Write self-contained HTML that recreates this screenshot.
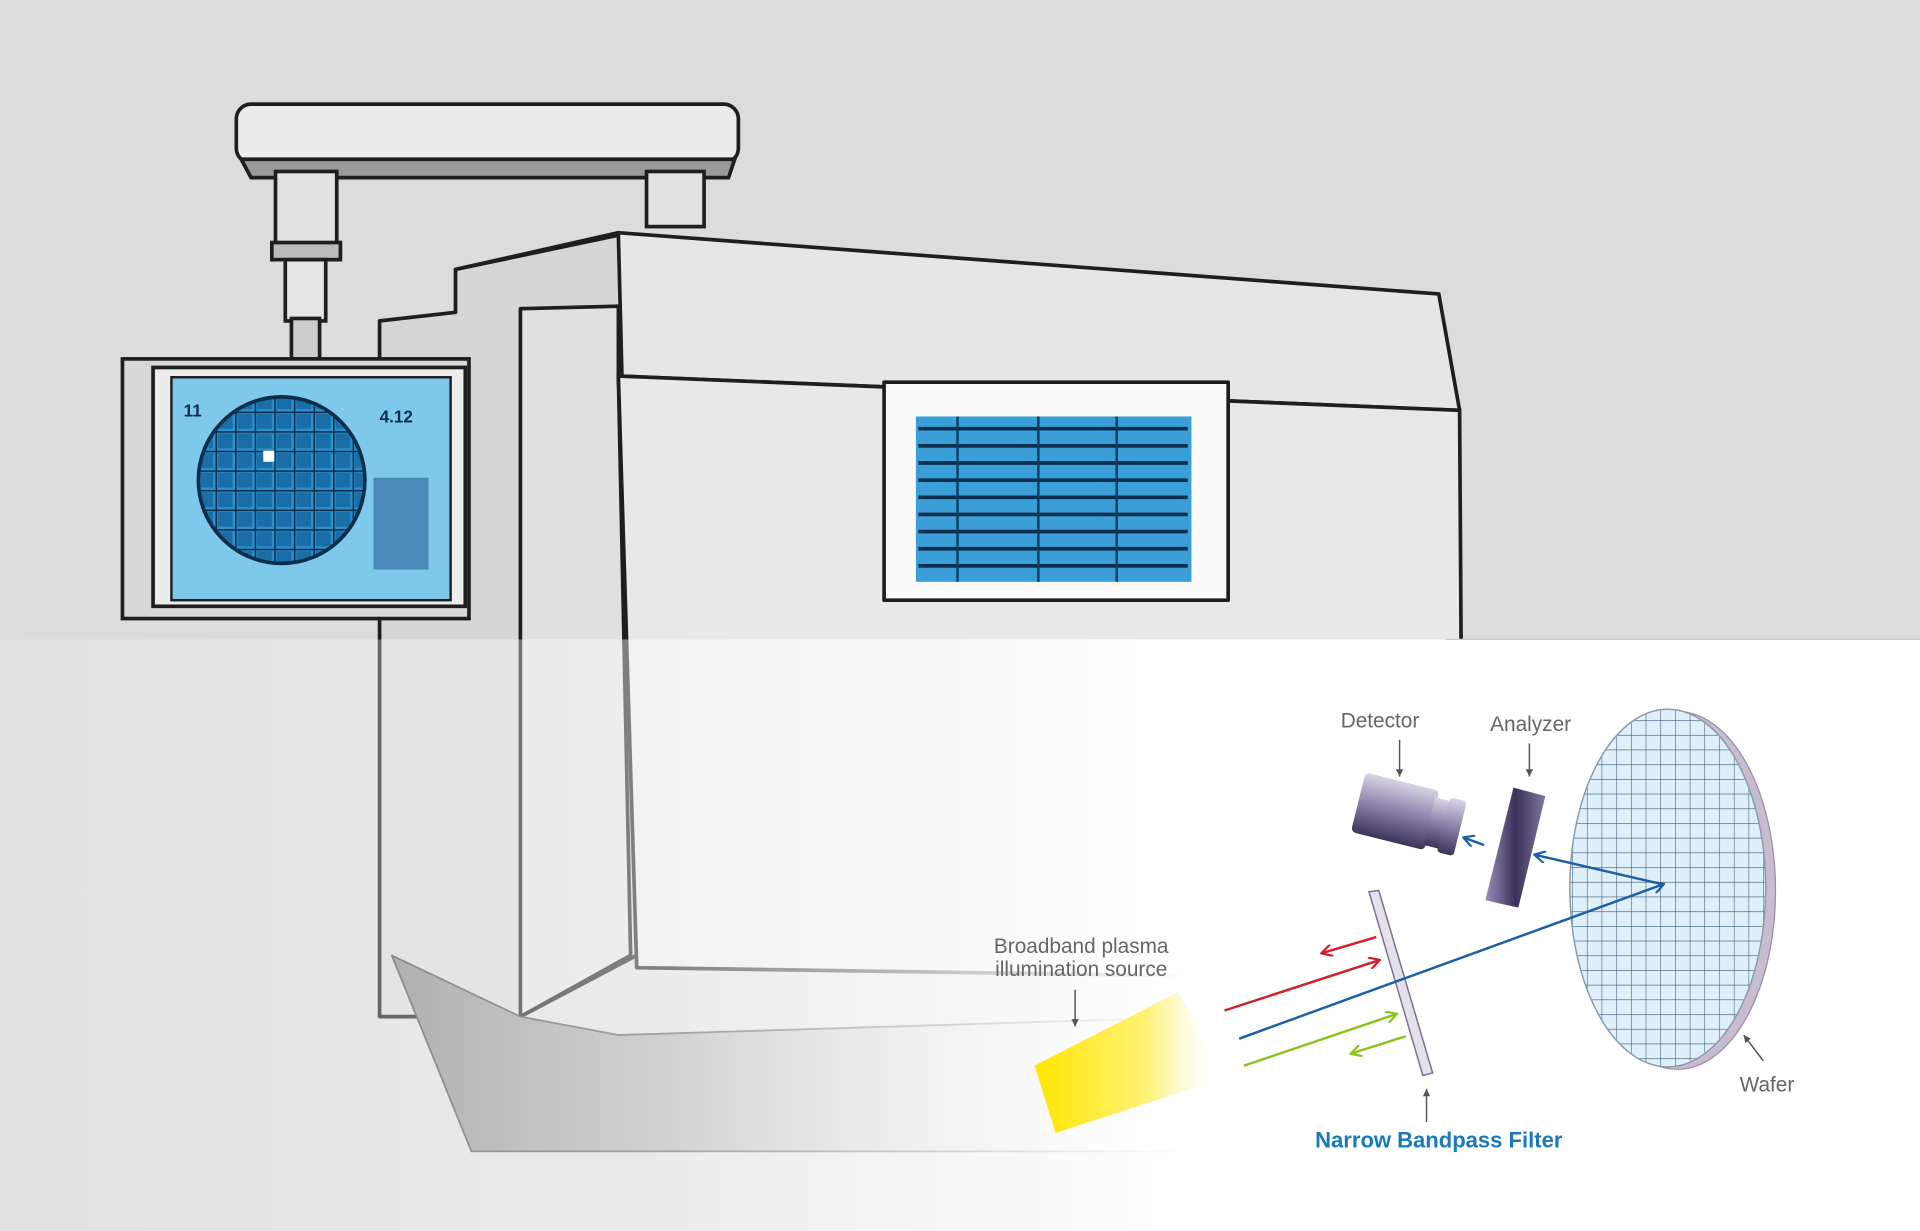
<!DOCTYPE html>
<html><head><meta charset="utf-8"><style>
html,body{margin:0;padding:0;background:#dcdcdc}
svg{display:block}
text{font-family:"Liberation Sans",sans-serif}
</style></head><body>
<svg width="1920" height="1231" viewBox="0 0 1568 1005" preserveAspectRatio="none" xmlns="http://www.w3.org/2000/svg">
<defs>
<linearGradient id="fade" x1="0" x2="1" y1="0" y2="0">
<stop offset="0" stop-color="#fff" stop-opacity="0.15"/>
<stop offset="0.35" stop-color="#fff" stop-opacity="0.45"/>
<stop offset="0.62" stop-color="#fff" stop-opacity="1"/>
<stop offset="1" stop-color="#fff" stop-opacity="1"/>
</linearGradient>
<linearGradient id="floor" x1="0" x2="1">
<stop offset="0" stop-color="#8a8a8a"/><stop offset="0.6" stop-color="#c8c8c8"/><stop offset="1" stop-color="#eee"/>
</linearGradient>
<linearGradient id="yel" x1="0" x2="1">
<stop offset="0" stop-color="#ffe600"/><stop offset="0.6" stop-color="#fff27a"/><stop offset="1" stop-color="#fff" stop-opacity="0"/>
</linearGradient>
<linearGradient id="det" x1="0" x2="0" y1="0" y2="1">
<stop offset="0" stop-color="#d8d4e6"/><stop offset="0.5" stop-color="#8a80a8"/><stop offset="1" stop-color="#3c3458"/>
</linearGradient>
<linearGradient id="ana" x1="0" x2="1">
<stop offset="0" stop-color="#9a90b8"/><stop offset="0.5" stop-color="#3a3058"/><stop offset="1" stop-color="#8078a0"/>
</linearGradient>
<pattern id="grid" width="12" height="12" patternUnits="userSpaceOnUse">
<rect width="12" height="12" fill="#e0f0fa"/><path d="M0 0H12M0 0V12" stroke="#3a5a74" stroke-width="0.9"/>
</pattern>
<pattern id="wgrid" width="16" height="16" patternUnits="userSpaceOnUse">
<rect width="16" height="16" fill="#2a8fcc"/><rect x="2" y="2" width="12" height="12" fill="#1a6ea8"/><path d="M0 0H16M0 0V16" stroke="#0b2e4a" stroke-width="2.5"/>
</pattern>
<marker id="ab" markerWidth="10" markerHeight="10" refX="8" refY="5" orient="auto" markerUnits="userSpaceOnUse"><path d="M0 0L9 5L0 10" fill="none" stroke="#1a5fa8" stroke-width="1.8"/></marker>
<marker id="ar" markerWidth="10" markerHeight="10" refX="8" refY="5" orient="auto" markerUnits="userSpaceOnUse"><path d="M0 0L9 5L0 10" fill="none" stroke="#d0202a" stroke-width="1.8"/></marker>
<marker id="ag" markerWidth="10" markerHeight="10" refX="8" refY="5" orient="auto" markerUnits="userSpaceOnUse"><path d="M0 0L9 5L0 10" fill="none" stroke="#8cc21e" stroke-width="1.8"/></marker>
<marker id="ak" markerWidth="8" markerHeight="8" refX="6" refY="3" orient="auto" markerUnits="userSpaceOnUse"><path d="M0 0L6 3L0 6Z" fill="#555"/></marker>
<clipPath id="wc"><ellipse cx="1362" cy="725" rx="80" ry="146"/></clipPath>
<clipPath id="mc"><circle cx="230" cy="392" r="68"/></clipPath>
</defs>
<rect width="1568" height="1005" fill="#dcdcdc"/>

<g stroke="#1e1e1e" stroke-width="3" stroke-linejoin="round">
<polygon points="372,220 505,190 1175,240 1192,335 505,307" fill="#e6e6e6"/>
<polygon points="310,262 372,255 372,220 505,192 520,780 425,830 310,830" fill="#d6d6d6"/>
<polygon points="425,252 505,250 505,307 515,780 425,830" fill="#e0e0e0"/>
<polygon points="505,307 1192,335 1195,800 520,790" fill="#e8e8e8"/>
<polygon points="320,780 425,830 505,845 990,830 990,940 385,940" fill="url(#floor)" stroke-width="1.5" stroke="#555"/>
<rect x="722" y="312" width="281" height="178" fill="#fafafa"/>
<rect x="748" y="340" width="225" height="135" fill="#3a9ed8" stroke="none"/>
</g>
<g stroke="#0b2e4a" stroke-width="3" fill="none">
<path d="M750 350h220M750 364h220M750 378h220M750 392h220M750 406h220M750 420h220M750 434h220M750 448h220M750 462h220"/>
<path d="M782 340v135M848 340v135M912 340v135" stroke="#0b3e64" stroke-width="2"/>
</g>
<g stroke="#1e1e1e" stroke-width="3">
<rect x="193" y="85" width="410" height="48" rx="12" fill="#ececec"/>
<polygon points="197,130 600,130 595,145 205,145" fill="#9a9a9a"/>
<rect x="225" y="140" width="50" height="60" fill="#e2e2e2"/>
<rect x="528" y="140" width="47" height="45" fill="#e2e2e2"/>
<rect x="222" y="198" width="56" height="14" fill="#bbb"/>
<rect x="233" y="212" width="33" height="50" fill="#e6e6e6"/>
<rect x="238" y="260" width="23" height="33" fill="#ccc"/>
<rect x="100" y="293" width="283" height="212" fill="#d8d8d8"/>
<rect x="125" y="300" width="255" height="195" fill="#ececec"/>
<rect x="140" y="308" width="228" height="182" fill="#7ec8ec" stroke-width="2"/>
</g>
<circle cx="230" cy="392" r="68" fill="url(#wgrid)" clip-path="url(#mc)"/>
<circle cx="230" cy="392" r="68" fill="none" stroke="#0b2e4a" stroke-width="3"/>
<rect x="215" y="368" width="9" height="9" fill="#fff"/>
<rect x="305" y="390" width="45" height="75" fill="#4a8ab8"/>
<text x="150" y="340" font-size="14" font-weight="bold" fill="#0b2e4a">11</text>
<text x="310" y="345" font-size="14" font-weight="bold" fill="#0b2e4a">4.12</text>

<rect x="0" y="522" width="1568" height="483" fill="url(#fade)"/>
<line x1="1180" y1="522" x2="1568" y2="522" stroke="#ccc"/>

<ellipse cx="1370" cy="727" rx="80" ry="146" fill="#c8bcd0" stroke="#9a8cab"/>
<rect x="1280" y="575" width="170" height="300" fill="url(#grid)" clip-path="url(#wc)"/>
<ellipse cx="1362" cy="725" rx="80" ry="146" fill="none" stroke="#8a9ab0" stroke-width="1.2"/>

<polygon points="1118,728 1126,727 1170,876 1162,878" fill="#e4e0ec" stroke="#7a7090" stroke-width="1.2"/>
<polygon points="1236,643 1262,650 1240,741 1213,735" fill="url(#ana)"/>
<g transform="rotate(14 1150 665)">
<rect x="1108" y="640" width="62" height="50" rx="4" fill="url(#det)"/>
<rect x="1168" y="646" width="14" height="40" fill="url(#det)"/>
<rect x="1180" y="643" width="14" height="46" rx="3" fill="url(#det)"/>
</g>

<polygon points="845,870 962,810 1000,880 862,925" fill="url(#yel)"/>

<g fill="none" stroke-width="2">
<line x1="1012" y1="848" x2="1358" y2="722" stroke="#1a5fa8" marker-end="url(#ab)"/>
<line x1="1358" y1="722" x2="1254" y2="698" stroke="#1a5fa8" marker-end="url(#ab)"/>
<line x1="1212" y1="690" x2="1196" y2="684" stroke="#1a5fa8" marker-end="url(#ab)"/>
<line x1="1000" y1="825" x2="1126" y2="784" stroke="#d0202a" marker-end="url(#ar)"/>
<line x1="1124" y1="765" x2="1080" y2="778" stroke="#d0202a" marker-end="url(#ar)"/>
<line x1="1016" y1="870" x2="1140" y2="828" stroke="#8cc21e" marker-end="url(#ag)"/>
<line x1="1148" y1="846" x2="1104" y2="860" stroke="#8cc21e" marker-end="url(#ag)"/>
</g>
<g stroke="#555" stroke-width="1.2" marker-end="url(#ak)">
<line x1="1143" y1="604" x2="1143" y2="634"/>
<line x1="1249" y1="607" x2="1249" y2="634"/>
<line x1="878" y1="808" x2="878" y2="838"/>
<line x1="1440" y1="866" x2="1424" y2="845"/>
<line x1="1165" y1="916" x2="1165" y2="889"/>
</g>
<g font-size="17" fill="#666" text-anchor="middle">
<text x="1127" y="594">Detector</text>
<text x="1250" y="597">Analyzer</text>
<text x="883" y="778">Broadband plasma</text>
<text x="883" y="797">illumination source</text>
<text x="1443" y="891">Wafer</text>
</g>
<text x="1175" y="937" font-size="18" font-weight="bold" fill="#1a7ab8" text-anchor="middle">Narrow Bandpass Filter</text>
</svg>
</body></html>
